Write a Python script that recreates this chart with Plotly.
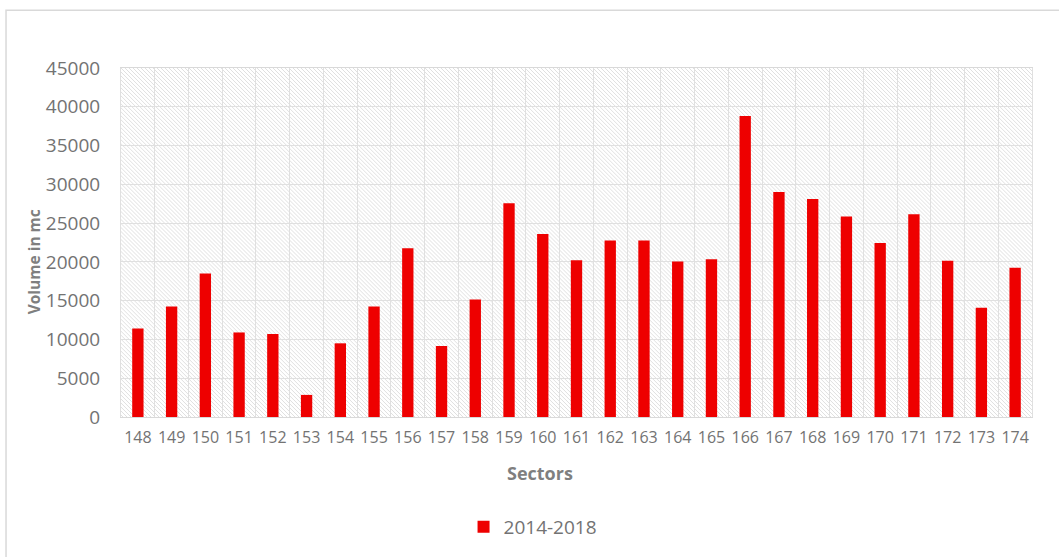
import base64
import plotly.graph_objects as go

# Harvest volume per forest sector, period 2014-2018
sectors = ["148", "149", "150", "151", "152", "153", "154", "155", "156",
           "157", "158", "159", "160", "161", "162", "163", "164", "165",
           "166", "167", "168", "169", "170", "171", "172", "173", "174"]
volume = [11400, 14250, 18500, 10900, 10700, 2850, 9500, 14250, 21750,
          9150, 15150, 27550, 23600, 20200, 22750, 22750, 20050, 20350,
          38800, 29000, 28100, 25850, 22450, 26150, 20150, 14100, 19250]
series_name = "2014-2018"
y_ticks = [0, 5000, 10000, 15000, 20000, 25000, 30000, 35000, 40000, 45000]

FONT = "Open Sans"
TICK_COLOR = "#737373"
TITLE_COLOR = "#7f7f7f"
GRID_COLOR = "#e0e0e0"

# Light downward-diagonal hatch used as the plot-area fill
hatch_svg = (
    '<svg xmlns="http://www.w3.org/2000/svg" width="911" height="350" '
    'preserveAspectRatio="none">'
    '<defs><pattern id="h" width="4" height="4" patternUnits="userSpaceOnUse">'
    '<path d="M-1,-1L5,5M-1,3L1,5M3,-1L5,1" stroke="#e0e0e0" stroke-width="1"/>'
    '</pattern></defs>'
    '<rect width="100%" height="100%" fill="url(#h)"/></svg>'
)
hatch_uri = "data:image/svg+xml;base64," + base64.b64encode(hatch_svg.encode()).decode()

fig = go.Figure(
    go.Bar(
        x=sectors,
        y=volume,
        name=series_name,
        marker=dict(color="#ee0000", line=dict(width=0)),
        showlegend=True,
    )
)

fig.update_layout(
    width=1059,
    height=557,
    margin=dict(l=121, r=27, t=68, b=139),
    paper_bgcolor="white",
    plot_bgcolor="rgba(0,0,0,0)",
    bargap=0.664,
    font=dict(family=FONT, color=TICK_COLOR),
    images=[dict(
        source=hatch_uri, xref="paper", yref="paper", x=0, y=1,
        sizex=1, sizey=1, xanchor="left", yanchor="top",
        sizing="stretch", layer="below",
    )],
    legend=dict(
        orientation="h", x=0.4523, xanchor="center", y=-0.311, yanchor="middle",
        font=dict(family=FONT, size=19, color=TICK_COLOR),
        bgcolor="rgba(0,0,0,0)",
    ),
    shapes=[dict(
        type="rect", xref="paper", yref="paper",
        x0=-0.1262, x1=1.2, y0=-0.7, y1=1.1657,
        line=dict(color="#d9d9d9", width=1.5), layer="below",
    )],
    annotations=[
        dict(text="Volume in mc", xref="paper", yref="paper",
             x=-0.0955, y=0.446, xanchor="center", yanchor="middle",
             textangle=-90, showarrow=False,
             font=dict(family=FONT, size=15.5, color=TITLE_COLOR, weight="bold")),
        dict(text="Sectors", xref="paper", yref="paper",
             x=0.46, y=-0.16, xanchor="center", yanchor="middle",
             showarrow=False,
             font=dict(family=FONT, size=18, color=TITLE_COLOR, weight="bold")),
    ],
)

fig.update_xaxes(
    type="category",
    tickson="boundaries",
    ticks="",
    tickangle=0,
    showgrid=True,
    gridcolor=GRID_COLOR,
    gridwidth=1,
    showline=True,
    linecolor="#d9d9d9",
    linewidth=1,
    mirror=True,
    tickfont=dict(family=FONT, size=16, color=TICK_COLOR),
    ticklabelstandoff=6,
)

fig.update_yaxes(
    range=[0, 45000],
    tickvals=y_ticks,
    tickformat="d",
    ticks="",
    showgrid=True,
    gridcolor=GRID_COLOR,
    gridwidth=1,
    zeroline=False,
    showline=True,
    linecolor=GRID_COLOR,
    linewidth=1,
    mirror=True,
    tickfont=dict(family=FONT, size=19, color=TICK_COLOR),
    ticklabelstandoff=16,
)

fig.write_html("out.html")
